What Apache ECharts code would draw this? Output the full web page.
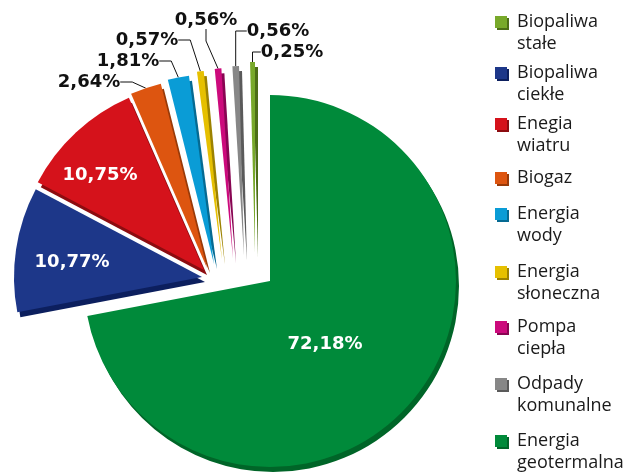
<!DOCTYPE html>
<html lang="pl">
<head>
    <meta charset="UTF-8">
    <title>OZE</title>
    <style>html, body {margin: 0; padding: 0; background: #fff;}</style>
</head>
<body>
<div id="chart" style="width: 640px;height: 472px"></div>
<script src="https://cdn.jsdelivr.net/npm/echarts@6/dist/echarts.min.js"></script>
<script>
    // data, clockwise from 12 o'clock
    const names = ['Energia geotermalna', 'Biopaliwa ciekłe', 'Enegia wiatru', 'Biogaz', 'Energia wody',
        'Energia słoneczna', 'Pompa ciepła', 'Odpady komunalne', 'Biopaliwa stałe'];
    const values = [72.18, 10.77, 10.75, 2.64, 1.81, 0.57, 0.56, 0.56, 0.25];
    const legendNames = ['Biopaliwa stałe', 'Biopaliwa ciekłe', 'Enegia wiatru', 'Biogaz', 'Energia wody',
        'Energia słoneczna', 'Pompa ciepła', 'Odpady komunalne', 'Energia geotermalna'];

    // styles
    const colors = ['#008a3a', '#1d3789', '#d5121b', '#dd5510', '#0a9cd6', '#e6c000', '#cc0a7c', '#878787', '#78a92a'];
    const sideColors = ['#006528', '#0c1f5e', '#8c0c10', '#983a08', '#056a92', '#9c8200', '#880552', '#5a5a5a', '#4c6e16'];

    // layout: exploded slice centres, radii, label placement, legend rows
    const centers = [[270, 281], [202, 277], [204, 270], [207, 268], [214, 264], [222, 260], [233, 258], [244, 256], [255, 252]];
    const radii = [186, 188, 188, 190, 190, 190, 190, 190, 190];
    const labelMove = [
        {dx: -19, dy: 2}, {dx: -34, dy: 0}, {dx: -38, dy: -24},
        {x: 89, y: 82}, {x: 128, y: 61}, {x: 147, y: 40},
        {x: 206, y: 20}, {x: 278, y: 31}, {x: 292, y: 52}
    ];
    const legendRows = [22, 73, 124, 178, 214, 272, 327, 384, 441];

    const fmt = v => v.toFixed(2).replace('.', ',') + '%';

    const chart = echarts.init(document.getElementById('chart'));

    const series = names.map((name, k) => {
        const inner = k < 3;
        return {
            type: 'pie',
            silent: true,
            animation: false,
            center: centers[k],
            radius: [0, radii[k]],
            startAngle: 90,
            clockwise: true,
            minAngle: 1.5,
            avoidLabelOverlap: false,
            itemStyle: {borderWidth: 0},
            label: {
                show: true,
                position: inner ? 'inside' : 'outside',
                formatter: p => fmt(p.value),
                fontFamily: 'DejaVu Sans',
                fontWeight: 'bold',
                fontSize: 18,
                color: inner ? '#fff' : '#111'
            },
            labelLine: {
                show: !inner,
                length: 10,
                length2: 12,
                lineStyle: {color: '#111', width: 1}
            },
            labelLayout: Object.assign({align: 'center', verticalAlign: 'middle'}, labelMove[k]),
            data: names.map((n, i) => i === k ? {
                name: n,
                value: values[i],
                itemStyle: {
                    color: colors[i],
                    shadowColor: sideColors[i],
                    shadowOffsetX: 3,
                    shadowOffsetY: 5,
                    shadowBlur: 0
                }
            } : {
                name: n,
                value: values[i],
                itemStyle: {color: 'rgba(0,0,0,0)'},
                label: {show: false},
                labelLine: {show: false}
            })
        };
    });

    const legend = legendNames.map((n, i) => {
        const idx = names.indexOf(n);
        return {
            data: [{
                name: n,
                itemStyle: {
                    color: colors[idx],
                    shadowColor: sideColors[idx],
                    shadowOffsetX: 2,
                    shadowOffsetY: 2,
                    shadowBlur: 0
                }
            }],
            orient: 'vertical',
            left: 495,
            top: legendRows[i] - 33,
            padding: 0,
            icon: 'rect',
            itemWidth: 12,
            itemHeight: 12,
            selectedMode: false,
            formatter: s => {
                const w = s.split(' ');
                return w.length > 1 ? '\n' + w[0] + '\n' + w.slice(1).join(' ') : '\n' + s + '\n';
            },
            textStyle: {
                fontFamily: 'Open Sans',
                fontSize: 18,
                lineHeight: 22,
                color: '#1a1a1a',
                padding: [0, 0, 0, 5]
            }
        };
    });

    chart.setOption({
        animation: false,
        legend: legend,
        series: series
    });
</script>
</body>
</html>
